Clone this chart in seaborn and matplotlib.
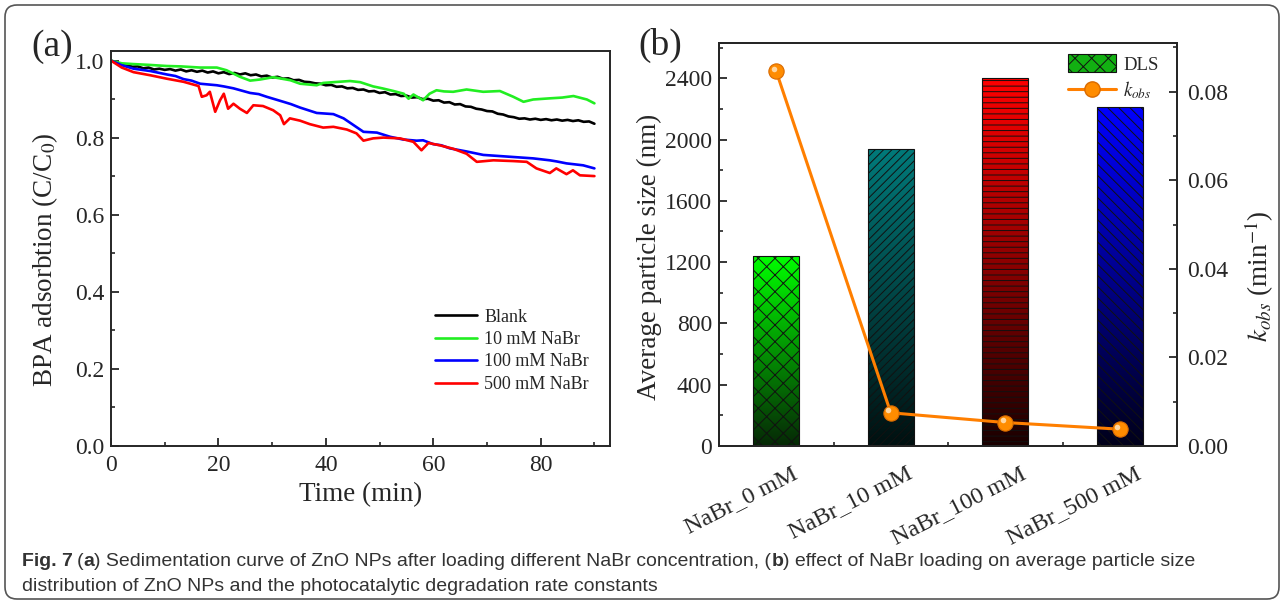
import numpy as np
import pandas as pd
import matplotlib
matplotlib.use('Agg')
import matplotlib.pyplot as plt
import matplotlib.transforms as mtransforms
from matplotlib.colors import LinearSegmentedColormap
from matplotlib.lines import Line2D
from matplotlib.patches import Patch, FancyBboxPatch
from matplotlib.ticker import MultipleLocator
import seaborn as sns

# ---------------- data: (a) sedimentation curves ----------------
sample_labels = ['Blank', '10 mM NaBr', '100 mM NaBr', '500 mM NaBr']
line_colors = ['#000000', '#22ee22', '#0000ff', '#ff0000']

blank_t = list(range(0, 91))
blank_y = [1.000, 0.995, 0.990, 0.988, 0.984, 0.985, 0.980, 0.982, 0.977, 0.979,
           0.976, 0.978, 0.974, 0.977, 0.972, 0.975, 0.971, 0.974, 0.969, 0.972,
           0.967, 0.970, 0.965, 0.968, 0.964, 0.967, 0.962, 0.964, 0.959, 0.961,
           0.956, 0.958, 0.953, 0.954, 0.949, 0.950, 0.945, 0.944, 0.941, 0.940,
           0.936, 0.937, 0.932, 0.933, 0.928, 0.929, 0.924, 0.925, 0.920, 0.921,
           0.916, 0.918, 0.912, 0.913, 0.908, 0.909, 0.904, 0.905, 0.900, 0.901,
           0.896, 0.897, 0.891, 0.892, 0.886, 0.887, 0.881, 0.880, 0.875, 0.873,
           0.869, 0.868, 0.862, 0.860, 0.855, 0.853, 0.849, 0.850, 0.847, 0.849,
           0.846, 0.848, 0.845, 0.847, 0.844, 0.846, 0.843, 0.845, 0.841, 0.842,
           0.836]

nabr10_t = [0, 2, 4.2, 7, 10.4, 13, 16.6, 19.7, 21.5, 24, 25.9, 27.8, 30.2, 33.4,
            35.2, 38.3, 39.5, 41.4, 44.5, 46.4, 48.8, 50.5, 52.6, 54.5, 55.4, 56.3,
            58.1, 59.3, 60.6, 62.0, 63.7, 66.2, 69.3, 72.4, 74.9, 76.8, 78.6, 81.7,
            84.0, 86.1, 88.6, 90]
nabr10_y = [1.000, 0.993, 0.991, 0.989, 0.986, 0.985, 0.982, 0.982, 0.975, 0.958,
            0.948, 0.951, 0.957, 0.949, 0.940, 0.936, 0.942, 0.944, 0.947, 0.944,
            0.933, 0.928, 0.921, 0.914, 0.901, 0.912, 0.897, 0.914, 0.923, 0.920,
            0.919, 0.925, 0.919, 0.921, 0.906, 0.893, 0.899, 0.902, 0.904, 0.908,
            0.899, 0.889]

nabr100_t = [0, 2, 4.2, 7.3, 10.4, 12, 13.5, 15, 16.6, 19.7, 21, 22.8, 25.9, 27.5,
             29, 32.1, 33.5, 35.2, 38.3, 41.4, 43.3, 45.1, 47, 49.5, 52, 54.4, 56.9,
             58.1, 60, 61.5, 63.1, 66.2, 69.3, 72.4, 75.5, 78.6, 81.7, 83, 84.8,
             87.9, 90]
nabr100_y = [1.000, 0.988, 0.979, 0.973, 0.964, 0.960, 0.952, 0.948, 0.940, 0.936,
             0.933, 0.928, 0.916, 0.913, 0.906, 0.893, 0.887, 0.878, 0.864, 0.861,
             0.850, 0.833, 0.815, 0.813, 0.802, 0.795, 0.792, 0.793, 0.783, 0.780,
             0.772, 0.764, 0.755, 0.752, 0.749, 0.746, 0.741, 0.738, 0.733, 0.728,
             0.720]

nabr500_t = [0, 2, 4.2, 7.3, 10.4, 13.5, 16.3, 16.9, 17.8, 18.4, 19.4, 20.3, 21.0,
             21.8, 22.8, 24.0, 25.3, 26.5, 28.3, 30.2, 31.5, 32.2, 33.3, 35.2, 37.0,
             39.5, 41.4, 43.9, 45.7, 47.0, 48.8, 50.7, 53.8, 56.3, 57.8, 59.1, 61.2,
             63.7, 66.2, 68.1, 71.2, 74.9, 77.4, 79.2, 81.7, 82.9, 84.8, 86.0, 87.3,
             90]
nabr500_y = [1.000, 0.982, 0.970, 0.962, 0.953, 0.945, 0.934, 0.906, 0.910, 0.919,
             0.867, 0.897, 0.914, 0.875, 0.888, 0.875, 0.864, 0.884, 0.882, 0.871,
             0.858, 0.835, 0.850, 0.844, 0.835, 0.826, 0.828, 0.821, 0.811, 0.792,
             0.798, 0.800, 0.798, 0.789, 0.767, 0.786, 0.780, 0.771, 0.758, 0.737,
             0.741, 0.739, 0.737, 0.720, 0.708, 0.720, 0.705, 0.715, 0.702, 0.700]

# ---------------- data: (b) particle size and k_obs ----------------
categories = ['NaBr_0 mM', 'NaBr_10 mM', 'NaBr_100 mM', 'NaBr_500 mM']
particle_size = [1240, 1937, 2400, 2213]
k_obs = [0.0846, 0.0075, 0.0053, 0.0038]

bar_top_colors = ['#00ff00', '#007a7a', '#ff0000', '#0000ff']
bar_bottom_colors = ['#062806', '#001010', '#1a0000', '#00001a']
bar_hatches = ['xx', '////', '---', '\\\\\\']

# ---------------- style ----------------
sns.set_style('ticks')
plt.rcParams['font.family'] = ['Liberation Serif', 'DejaVu Serif']
plt.rcParams['mathtext.fontset'] = 'stix'
plt.rcParams['hatch.linewidth'] = 0.7
plt.rcParams['axes.linewidth'] = 1.4
plt.rcParams['xtick.direction'] = 'in'
plt.rcParams['ytick.direction'] = 'in'

W, H = 1284, 603
fig = plt.figure(figsize=(W / 100, H / 100), dpi=100)

# background axes in pixel coordinates for border, panel tags and caption
ax_bg = fig.add_axes([0, 0, 1, 1])
ax_bg.set_xlim(0, W)
ax_bg.set_ylim(H, 0)
ax_bg.axis('off')
ax_bg.add_patch(FancyBboxPatch((5, 5), W - 10, H - 9,
                               boxstyle='round,pad=0,rounding_size=12',
                               facecolor='none', edgecolor='#555555', lw=1.2))

# ---------------- (a) ----------------
ax1 = fig.add_axes([111 / W, 1 - 445.5 / H, 499 / W, 394.5 / H])
frames = []
for lab, t, y in zip(sample_labels, [blank_t, nabr10_t, nabr100_t, nabr500_t],
                     [blank_y, nabr10_y, nabr100_y, nabr500_y]):
    frames.append(pd.DataFrame({'time': t, 'ratio': y, 'sample': lab}))
df_a = pd.concat(frames, ignore_index=True)

sns.lineplot(data=df_a, x='time', y='ratio', hue='sample', hue_order=sample_labels,
             palette=line_colors, estimator=None, linewidth=1.9, ax=ax1)
ax1.set_xlim(0, 92.9)
ax1.set_ylim(0, 1.025)
ax1.xaxis.set_major_locator(MultipleLocator(20))
ax1.xaxis.set_minor_locator(MultipleLocator(10))
ax1.yaxis.set_major_locator(MultipleLocator(0.2))
ax1.yaxis.set_minor_locator(MultipleLocator(0.1))
ax1.yaxis.set_major_formatter(matplotlib.ticker.FormatStrFormatter('%.1f'))
ax1.tick_params(which='major', length=6, width=1.3, labelsize=17, pad=5)
ax1.tick_params(axis='x', which='major', pad=7)
ax1.tick_params(which='minor', length=3, width=1.2)
ax1.set_xlabel('Time (min)', fontsize=19.5)
ax1.set_ylabel('BPA adsorbtion (C/C$_0$)', fontsize=19.5)
ax1.xaxis.set_label_coords(0.5, -0.092)
ax1.yaxis.set_label_coords(-0.103, 0.47)
handles, labels = ax1.get_legend_handles_labels()
ax1.legend(handles, labels, loc='upper left', bbox_to_anchor=(0.65, 0.347),
           frameon=False, fontsize=13, handlelength=2.3, handletextpad=0.4,
           labelspacing=0.3, borderpad=0, borderaxespad=0)

# ---------------- (b) ----------------
ax2 = fig.add_axes([719 / W, 1 - 446 / H, 458 / W, 403 / H])
sns.barplot(x=categories, y=particle_size, width=0.4, color='#888888',
            edgecolor='#111111', linewidth=0.8, ax=ax2)
grad = np.linspace(0, 1, 256).reshape(-1, 1)
for patch, top_c, bot_c, hat in zip(ax2.patches, bar_top_colors, bar_bottom_colors, bar_hatches):
    x0, y0 = patch.get_x(), patch.get_y()
    w, h = patch.get_width(), patch.get_height()
    cmap = LinearSegmentedColormap.from_list('bar', [bot_c, top_c])
    im = ax2.imshow(grad, cmap=cmap, extent=[x0, x0 + w, y0, y0 + h],
                    origin='lower', aspect='auto', zorder=1.5)
    im.set_clip_path(patch)
    patch.set_facecolor('none')
    patch.set_hatch(hat)
    patch.set_zorder(2)

ax2.set_xlim(-0.5, 3.5)
ax2.set_ylim(0, 2630)
ax2.yaxis.set_major_locator(MultipleLocator(400))
ax2.yaxis.set_minor_locator(MultipleLocator(200))
ax2.set_xticks(range(len(categories)))
ax2.xaxis.set_minor_locator(MultipleLocator(0.5))
ax2.tick_params(which='major', length=6, width=1.3, labelsize=17, pad=5)
ax2.tick_params(which='minor', length=3, width=1.2)
ax2.tick_params(axis='x', which='major', labelsize=17.5)
ax2.set_xticklabels(categories, rotation=27, ha='right', rotation_mode='anchor')
offset = mtransforms.ScaledTranslation(15 / 100, -10 / 100, fig.dpi_scale_trans)
for lbl in ax2.get_xticklabels():
    lbl.set_transform(lbl.get_transform() + offset)
ax2.set_ylabel('Average particle size (nm)', fontsize=19.5)
ax2.yaxis.set_label_coords(-0.124, 0.47)

ax2r = ax2.twinx()
sns.lineplot(x=np.arange(len(categories)), y=k_obs, color='#ff7f00', linewidth=2.2,
             marker='o', markersize=11, markerfacecolor='#ff8c00',
             markeredgecolor='#d96a00', markeredgewidth=0.8, ax=ax2r)
hl = mtransforms.ScaledTranslation(-1.8 / 72, 1.8 / 72, fig.dpi_scale_trans)
ax2r.plot(np.arange(len(categories)), k_obs, linestyle='none', marker='o',
          markersize=4, color='#ffd6a0', markeredgewidth=0,
          transform=ax2r.transData + hl)
ax2r.set_ylim(0, 0.091)
ax2r.yaxis.set_major_locator(MultipleLocator(0.02))
ax2r.yaxis.set_minor_locator(MultipleLocator(0.01))
ax2r.yaxis.set_major_formatter(matplotlib.ticker.FormatStrFormatter('%.2f'))
ax2r.tick_params(which='major', length=6, width=1.3, labelsize=17, pad=7)
ax2r.tick_params(which='minor', length=3, width=1.2)
ax2r.set_ylabel('$k_{obs}$ (min$^{-1}$)', fontsize=19.5)
ax2r.yaxis.set_label_coords(1.144, 0.42)

leg_handles = [Patch(facecolor='#12b012', edgecolor='#111111', hatch='xx', lw=0.8),
               Line2D([0], [0], color='#ff7f00', lw=2.2, marker='o', markersize=11,
                      markerfacecolor='#ff8c00', markeredgecolor='#d96a00')]
ax2r.legend(leg_handles, ['DLS', '$k_{obs}$'], loc='upper left',
            bbox_to_anchor=(0.762, 0.972), frameon=False, fontsize=13.5,
            handlelength=2.55, handleheight=1.1, handletextpad=0.4,
            labelspacing=0.3, borderpad=0, borderaxespad=0)

# ---------------- panel tags ----------------
ax_bg.text(52, 47, '(a)', ha='center', va='center', fontsize=27)
ax_bg.text(660, 45, '(b)', ha='center', va='center', fontsize=27)

# ---------------- caption ----------------
cap_font = ['Liberation Sans', 'DejaVu Sans']
cap_kw = dict(fontsize=14, color='#333333', family=cap_font, va='baseline')
t = ax_bg.text(22, 566, 'Fig. 7', fontweight='bold', **cap_kw)
pieces = [('(', 'normal', 4), ('a', 'bold', 0),
          (') Sedimentation curve of ZnO NPs after loading different NaBr concentration, (', 'normal', 0),
          ('b', 'bold', 0), (') effect of NaBr loading on average particle size', 'normal', 0)]
for txt, wt, dx in pieces:
    t = ax_bg.annotate(txt, xy=(1, 0), xycoords=t, xytext=(dx, 0),
                       textcoords='offset pixels', fontweight=wt,
                       fontsize=14, color='#333333', family=cap_font,
                       va='bottom')
ax_bg.text(22, 591, 'distribution of ZnO NPs and the photocatalytic degradation rate constants',
           **cap_kw)

fig.savefig('out.png', dpi=100)
